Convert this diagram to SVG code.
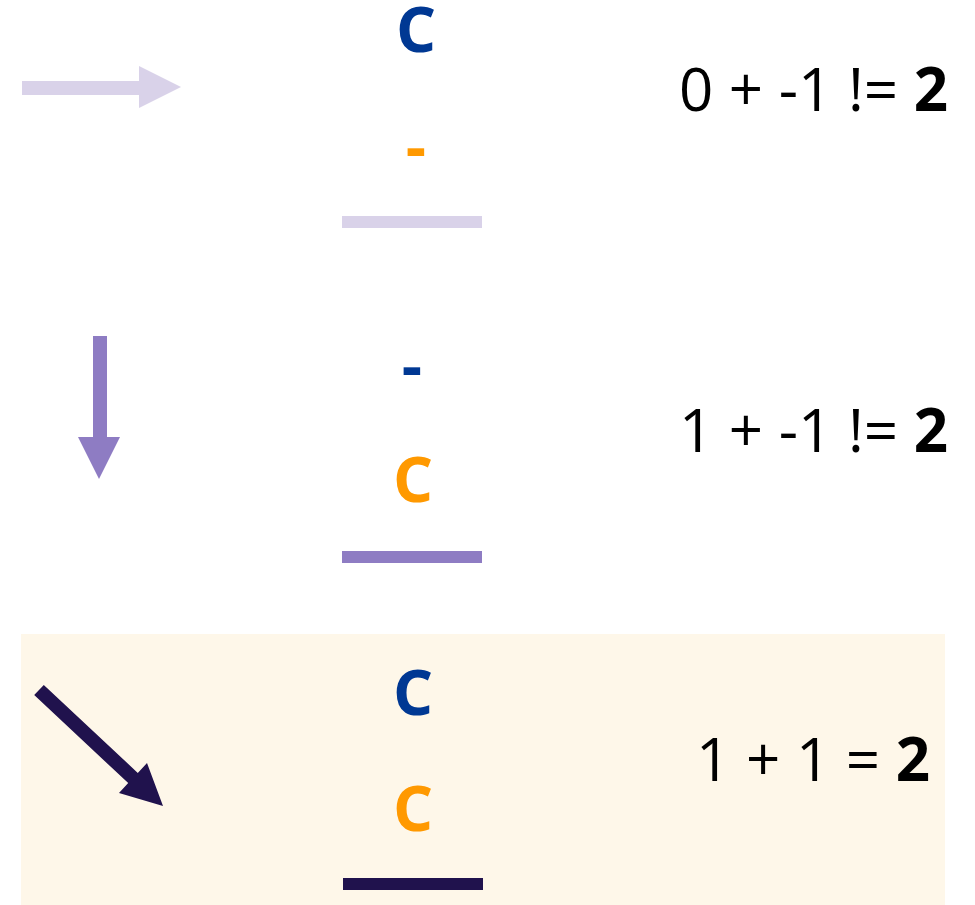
<svg xmlns="http://www.w3.org/2000/svg" width="975" height="905" viewBox="0 0 975 905">
<style>
.sym{font-family:"Open Sans","Noto Sans",sans-serif;font-weight:bold;font-size:63px;text-anchor:middle}
.blue{fill:#003893}
.orange{fill:#FF9900}
.eq{font-family:"Open Sans","Noto Sans",sans-serif;font-size:60px;fill:#000;text-anchor:end}
.b{font-weight:bold}
</style>
<rect x="21" y="634" width="924" height="271" fill="#FEF7E9"/>
<g id="connectors">
<polygon points="22,81 139,81 139,66 181,87 139,108 139,95 22,95" fill="#D9D2E9"/>
<polygon points="93,336 107,336 107,437 120,437 99,479 78,437 93,437" fill="#8E7CC3"/>
<polygon points="43.8,684.9 137.8,772.9 147,763 163,806 119,793 128.2,783.1 34.2,695.1" fill="#20124D"/>
</g>
<g id="row1">
<text class="sym blue" x="416" y="52">C</text>
<text class="sym orange" x="416" y="169">-</text>
<rect x="342" y="216" width="140" height="12" fill="#D9D2E9"/>
<text class="eq" x="948" y="111">0 + -1 != <tspan class="b">2</tspan></text>
</g>
<g id="row2">
<text class="sym blue" x="412" y="388">-</text>
<text class="sym orange" x="413" y="502">C</text>
<rect x="342" y="551" width="140" height="12" fill="#8E7CC3"/>
<text class="eq" x="948" y="452">1 + -1 != <tspan class="b">2</tspan></text>
</g>
<g id="row3">
<text class="sym blue" x="413" y="715">C</text>
<text class="sym orange" x="413" y="831">C</text>
<rect x="343" y="878" width="140" height="12" fill="#20124D"/>
<text class="eq" x="930" y="781">1 + 1 = <tspan class="b">2</tspan></text>
</g>
</svg>
